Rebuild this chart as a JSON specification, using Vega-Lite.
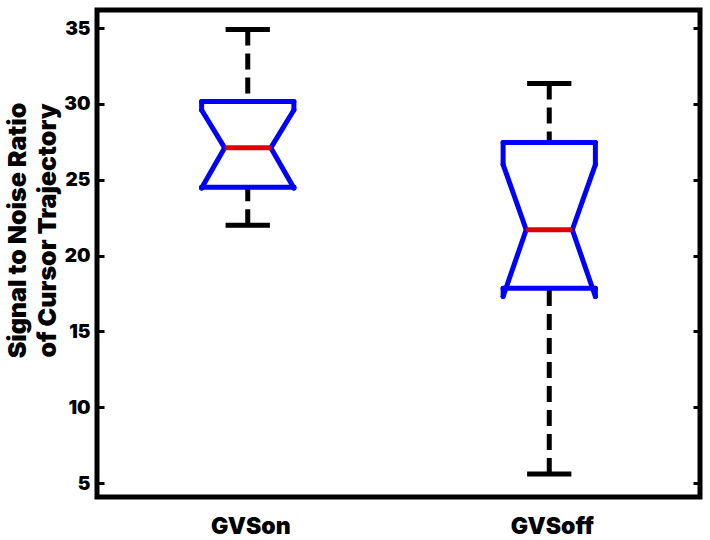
{
  "$schema": "https://vega.github.io/schema/vega-lite/v6.json",
  "width": 603,
  "height": 487,
  "autosize": "none",
  "padding": {"left": 97, "top": 10, "right": 10, "bottom": 43},
  "background": "white",
  "config": {
    "view": {"stroke": "black", "strokeWidth": 5},
    "font": "Inter"
  },
  "data": {
    "values": [
      {"group": "GVSon", "lo": 22.0, "q1": 24.5, "nlo": 24.45, "med": 27.1, "nhi": 29.6, "q3": 30.15, "hi": 34.9},
      {"group": "GVSoff", "lo": 5.6, "q1": 17.85, "nlo": 17.3, "med": 21.7, "nhi": 26.0, "q3": 27.45, "hi": 31.35}
    ]
  },
  "resolve": {"scale": {"y": "shared", "x": "shared"}, "axis": {"y": "independent", "x": "shared"}},
  "layer": [
    {
      "mark": {"type": "rule", "color": "black", "strokeWidth": 5, "strokeDash": [16, 8], "strokeCap": "butt"},
      "encoding": {
        "x": {"field": "group", "type": "nominal", "sort": ["GVSon", "GVSoff"], "bandPosition": 0.5, "title": null,
          "scale": {"type": "band", "domain": ["GVSon", "GVSoff"], "paddingInner": 0.694, "paddingOuter": 0.347},
          "axis": {"title": null, "orient": "bottom", "domain": false, "ticks": false, "grid": false, "labelAngle": 0,
            "labelFont": "Inter", "labelFontWeight": 900, "labelFontSize": 23, "labelColor": "black", "labelPadding": 18, "labelOffset": 3}},
        "y": {"field": "hi", "type": "quantitative",
          "scale": {"domain": [4.08, 36.19], "nice": false, "zero": false},
          "axis": {"orient": "left", "values": [5, 10, 15, 20, 25, 30, 35], "grid": false, "domain": false,
            "tickSize": -7, "tickWidth": 3, "tickColor": "black", "labelPadding": 14,
            "labelFont": "Inter", "labelFontWeight": 900, "labelFontSize": 19, "labelColor": "black",
            "title": ["Signal to Noise Ratio", "of Cursor Trajectory"],
            "titleFont": "Inter", "titleFontWeight": 900, "titleFontSize": 25, "titleColor": "black",
            "titleLineHeight": 30, "titleAngle": -90, "titleAlign": "center", "titleBaseline": "alphabetic",
            "titleX": -72, "titleY": 220}},
        "y2": {"field": "q3"}
      }
    },
    {
      "mark": {"type": "rule", "color": "black", "strokeWidth": 5, "strokeDash": [16, 8], "strokeCap": "butt"},
      "encoding": {
        "x": {"field": "group", "type": "nominal", "bandPosition": 0.5, "title": null},
        "y": {"field": "lo", "type": "quantitative",
          "axis": {"orient": "right", "values": [5, 10, 15, 20, 25, 30, 35], "grid": false, "domain": false,
            "tickSize": -7, "tickWidth": 3, "tickColor": "black", "labels": false, "title": null}},
        "y2": {"field": "q1"}
      }
    },
    {
      "mark": {"type": "rule", "color": "black", "strokeWidth": 5, "strokeCap": "butt"},
      "encoding": {
        "x": {"field": "group", "type": "nominal", "bandPosition": 0.26, "title": null},
        "x2": {"field": "group", "bandPosition": 0.74},
        "y": {"field": "hi", "type": "quantitative", "axis": null}
      }
    },
    {
      "mark": {"type": "rule", "color": "black", "strokeWidth": 5, "strokeCap": "butt"},
      "encoding": {
        "x": {"field": "group", "type": "nominal", "bandPosition": 0.26, "title": null},
        "x2": {"field": "group", "bandPosition": 0.74},
        "y": {"field": "lo", "type": "quantitative", "axis": null}
      }
    },
    {
      "mark": {"type": "rule", "color": "#0000ff", "strokeWidth": 5, "strokeCap": "round"},
      "encoding": {
        "x": {"field": "group", "type": "nominal", "bandPosition": 0, "title": null},
        "x2": {"field": "group", "bandPosition": 1},
        "y": {"field": "q3", "type": "quantitative", "axis": null}
      }
    },
    {
      "mark": {"type": "rule", "color": "#0000ff", "strokeWidth": 5, "strokeCap": "round"},
      "encoding": {
        "x": {"field": "group", "type": "nominal", "bandPosition": 0, "title": null},
        "x2": {"field": "group", "bandPosition": 1},
        "y": {"field": "q1", "type": "quantitative", "axis": null}
      }
    },
    {
      "mark": {"type": "rule", "color": "#0000ff", "strokeWidth": 5, "strokeCap": "round"},
      "encoding": {
        "x": {"field": "group", "type": "nominal", "bandPosition": 0, "title": null},
        "y": {"field": "q3", "type": "quantitative", "axis": null},
        "y2": {"field": "nhi"}
      }
    },
    {
      "mark": {"type": "rule", "color": "#0000ff", "strokeWidth": 5, "strokeCap": "round"},
      "encoding": {
        "x": {"field": "group", "type": "nominal", "bandPosition": 1, "title": null},
        "y": {"field": "q3", "type": "quantitative", "axis": null},
        "y2": {"field": "nhi"}
      }
    },
    {
      "mark": {"type": "rule", "color": "#0000ff", "strokeWidth": 5, "strokeCap": "round"},
      "encoding": {
        "x": {"field": "group", "type": "nominal", "bandPosition": 0, "title": null},
        "x2": {"field": "group", "bandPosition": 0.25},
        "y": {"field": "nhi", "type": "quantitative", "axis": null},
        "y2": {"field": "med"}
      }
    },
    {
      "mark": {"type": "rule", "color": "#0000ff", "strokeWidth": 5, "strokeCap": "round"},
      "encoding": {
        "x": {"field": "group", "type": "nominal", "bandPosition": 1, "title": null},
        "x2": {"field": "group", "bandPosition": 0.75},
        "y": {"field": "nhi", "type": "quantitative", "axis": null},
        "y2": {"field": "med"}
      }
    },
    {
      "mark": {"type": "rule", "color": "#0000ff", "strokeWidth": 5, "strokeCap": "round"},
      "encoding": {
        "x": {"field": "group", "type": "nominal", "bandPosition": 0.25, "title": null},
        "x2": {"field": "group", "bandPosition": 0},
        "y": {"field": "med", "type": "quantitative", "axis": null},
        "y2": {"field": "nlo"}
      }
    },
    {
      "mark": {"type": "rule", "color": "#0000ff", "strokeWidth": 5, "strokeCap": "round"},
      "encoding": {
        "x": {"field": "group", "type": "nominal", "bandPosition": 0.75, "title": null},
        "x2": {"field": "group", "bandPosition": 1},
        "y": {"field": "med", "type": "quantitative", "axis": null},
        "y2": {"field": "nlo"}
      }
    },
    {
      "mark": {"type": "rule", "color": "#0000ff", "strokeWidth": 5, "strokeCap": "round"},
      "encoding": {
        "x": {"field": "group", "type": "nominal", "bandPosition": 0, "title": null},
        "y": {"field": "nlo", "type": "quantitative", "axis": null},
        "y2": {"field": "q1"}
      }
    },
    {
      "mark": {"type": "rule", "color": "#0000ff", "strokeWidth": 5, "strokeCap": "round"},
      "encoding": {
        "x": {"field": "group", "type": "nominal", "bandPosition": 1, "title": null},
        "y": {"field": "nlo", "type": "quantitative", "axis": null},
        "y2": {"field": "q1"}
      }
    },
    {
      "mark": {"type": "rule", "color": "#e00000", "strokeWidth": 5, "strokeCap": "butt"},
      "encoding": {
        "x": {"field": "group", "type": "nominal", "bandPosition": 0.25, "title": null},
        "x2": {"field": "group", "bandPosition": 0.75},
        "y": {"field": "med", "type": "quantitative", "axis": null}
      }
    }
  ]
}
